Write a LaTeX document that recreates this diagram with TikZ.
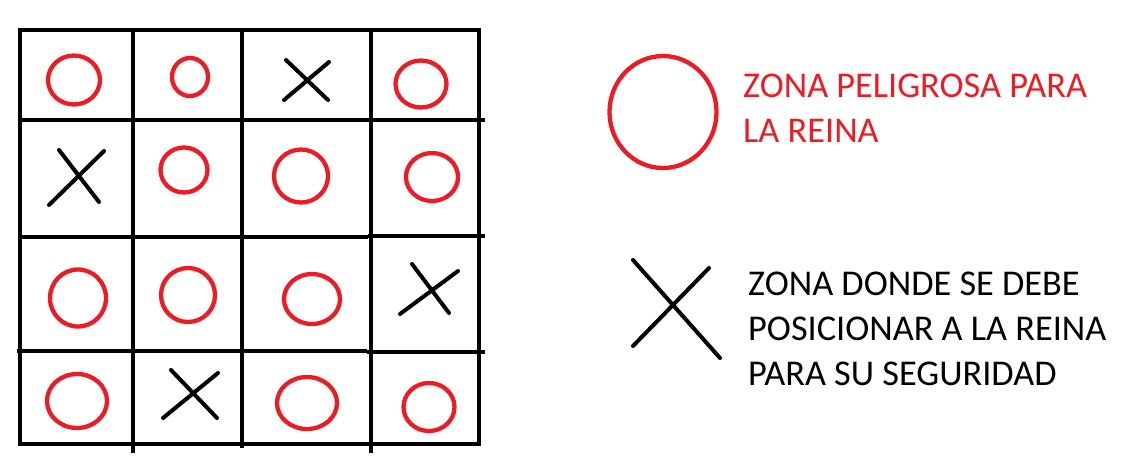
\documentclass[tikz,border=0pt]{standalone}
\usepackage{fontspec}
\setmainfont{Carlito}
\definecolor{paintred}{HTML}{ED1C24}
\begin{document}
\begin{tikzpicture}[x=1pt,y=-1pt,
  gridline/.style={line width=4.5pt,black},
  danger/.style={line width=4.3pt,paintred},
  safe/.style={line width=4pt,black,line cap=round},
  legendtext/.style={anchor=base west,inner sep=0pt,font=\fontsize{36.3}{45}\selectfont}]
\useasboundingbox (0,0) rectangle (1123,460);
% grid
\draw[gridline] (20,30) rectangle (479,444);
\draw[gridline] (133,30) -- (133,453);
\draw[gridline] (242,30) -- (242,448);
\draw[gridline] (371,30) -- (371,453);
\draw[gridline] (20,120) -- (485,120);
\draw[gridline] (20,237) -- (368,237);
\draw[gridline] (368,236) -- (485,236);
\draw[gridline] (17,351) -- (367,351);
\draw[gridline] (367,352) -- (485,352);
% row 1
\draw[danger] (74,80) ellipse (26 and 24.5);
\draw[danger] (190,77) ellipse (18 and 19);
\draw[safe] (284,100) -- (329,62) (286,60) -- (328,100);
\draw[danger] (421,84) ellipse (25.5 and 23.5);
% row 2
\draw[safe] (59,150) -- (99,202) (104,151) -- (49,205);
\draw[danger] (184,170) ellipse (23.5 and 22.5);
\draw[danger] (301,176) ellipse (27 and 26.5);
\draw[danger] (432,177) ellipse (26 and 24);
% row 3
\draw[danger] (78,298) ellipse (28 and 28.5);
\draw[danger] (188,295) ellipse (27 and 27);
\draw[danger] (312,299) ellipse (28 and 25);
\draw[safe] (412,264) -- (449,313) (458,271) -- (400,314);
% row 4
\draw[danger] (77,401) ellipse (30 and 27);
\draw[safe] (171,370) -- (217,418) (218,373) -- (163,418);
\draw[danger] (307,403) ellipse (30 and 26);
\draw[danger] (429,407) ellipse (25.5 and 24);
% legend
\draw[danger] (663,112) ellipse (53.5 and 56);
\node[legendtext,text=paintred] (t1) at (743,97) {ZONA PELIGROSA PARA};
\node[legendtext,text=paintred] (t2) at (743,142) {LA REINA};
\draw[safe] (633,260) -- (720,358) (709,268) -- (633,346);
\node[legendtext] (t3) at (748,295) {ZONA DONDE SE DEBE};
\node[legendtext] (t4) at (748,340) {POSICIONAR A LA REINA};
\node[legendtext] (t5) at (748,385) {PARA SU SEGURIDAD};
\end{tikzpicture}
\end{document}
